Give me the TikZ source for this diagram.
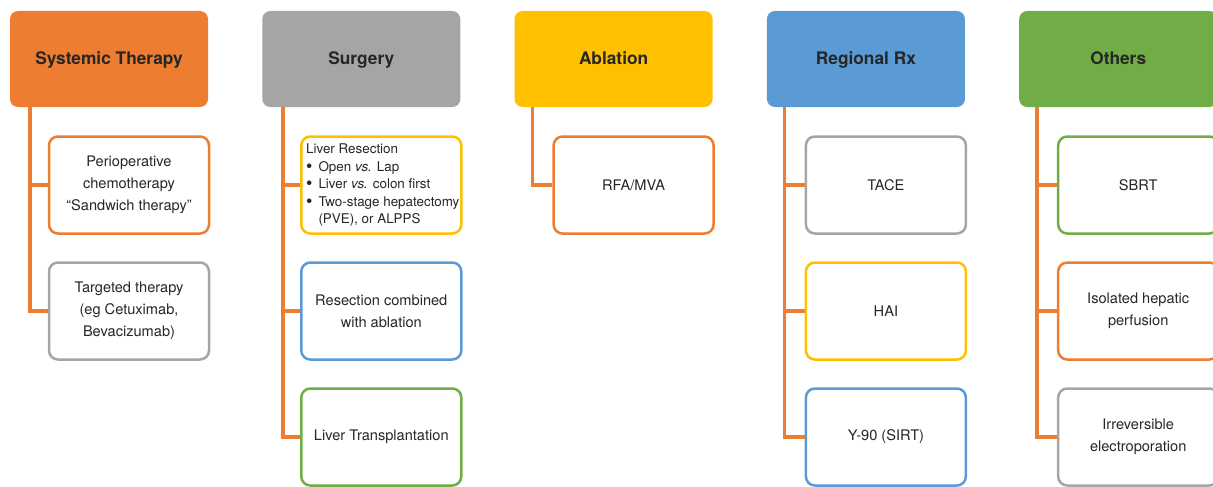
\documentclass[tikz,border=0pt]{standalone}
\usepackage{fontspec}
\setmainfont{TeX Gyre Heros}
\usepackage{xcolor}
\usetikzlibrary{math}
\definecolor{myorange}{RGB}{237,125,49}
\definecolor{mygray}{RGB}{165,165,165}
\definecolor{myyellow}{RGB}{255,192,0}
\definecolor{myblue}{RGB}{91,155,213}
\definecolor{mygreen}{RGB}{112,173,71}
\definecolor{mytext}{RGB}{38,38,38}
\newcommand{\bull}{\raisebox{-1.2pt}{\scalebox{1.35}{\textbullet}}}

\tikzset{
head/.style={fill=#1, rounded corners=8pt, minimum width=198pt, minimum height=96pt, text height=12.5pt, text depth=0.5pt, text=mytext, font=\fontsize{17.3}{20}\selectfont\bfseries},
item/.style={draw=#1, line width=2.5pt, fill=white, rounded corners=9pt, minimum width=160pt, minimum height=97pt, align=center, text=mytext, font=\fontsize{14.6}{22}\selectfont},
link/.style={draw=myorange, line width=3.5pt},
}

\begin{document}
\begin{tikzpicture}[x=1pt,y=-1pt]
\tikzmath{
\dx=252.3;
\ha=109; \hb=\ha+\dx; \hc=\ha+2*\dx; \hd=\ha+3*\dx; \he=\ha+4*\dx;
\ya=185; \yb=311; \yc=437;
}
\useasboundingbox (0,0) rectangle (1213,487);
\clip (0,0) rectangle (1213,487);

% headers
\node[head=myorange] (st) at (\ha,59) {Systemic Therapy};
\node[head=mygray] (su) at (\hb,59) {Surgery};
\node[head=myyellow] (ab) at (\hc,59) {Ablation};
\node[head=myblue] (rx) at (\hd,59) {Regional Rx};
\node[head=mygreen] (ot) at (\he,59) {Others};

% systemic therapy
\node[item=myorange] (st1) at (\ha+20,\ya) {Perioperative\\chemotherapy\\“Sandwich therapy”};
\node[item=mygray] (st2) at (\ha+20,\yb) {Targeted therapy\\(eg Cetuximab,\\Bevacizumab)};

% surgery
\node[item=myyellow, inner sep=1pt, font=\fontsize{13.4}{17.5}\selectfont] (su1) at (\hb+20,\ya) {%
\hspace*{3pt}\begin{tabular}{@{}l@{\hspace{6pt}}l@{}}
\multicolumn{2}{@{}l@{}}{Liver Resection}\\
\bull & Open \textit{vs.} Lap\\
\bull & Liver \textit{vs.} colon first\\
\bull & Two-stage hepatectomy\\
 & (PVE), or ALPPS
\end{tabular}};
\node[item=myblue] (su2) at (\hb+20,\yb) {Resection combined\\with ablation};
\node[item=mygreen] (su3) at (\hb+20,\yc) {Liver Transplantation};

% ablation
\node[item=myorange] (ab1) at (\hc+20,\ya) {RFA/MVA};

% regional
\node[item=mygray] (rx1) at (\hd+20,\ya) {TACE};
\node[item=myyellow] (rx2) at (\hd+20,\yb) {HAI};
\node[item=myblue] (rx3) at (\hd+20,\yc) {Y-90 (SIRT)};

% others
\node[item=mygreen] (ot1) at (\he+20,\ya) {SBRT};
\node[item=myorange] (ot2) at (\he+20,\yb) {Isolated hepatic\\perfusion};
\node[item=mygray] (ot3) at (\he+20,\yc) {Irreversible\\electroporation};

% links
\draw[link] ([xshift=20pt]st.south west) |- (st1.west);
\draw[link] ([xshift=20pt]st.south west) |- (st2.west);
\draw[link] ([xshift=21pt]su.south west) |- (su1.west);
\draw[link] ([xshift=21pt]su.south west) |- (su2.west);
\draw[link] ([xshift=21pt]su.south west) |- (su3.west);
\draw[link] ([xshift=18pt]ab.south west) |- (ab1.west);
\draw[link] ([xshift=18pt]rx.south west) |- (rx1.west);
\draw[link] ([xshift=18pt]rx.south west) |- (rx2.west);
\draw[link] ([xshift=18pt]rx.south west) |- (rx3.west);
\draw[link] ([xshift=18pt]ot.south west) |- (ot1.west);
\draw[link] ([xshift=18pt]ot.south west) |- (ot2.west);
\draw[link] ([xshift=18pt]ot.south west) |- (ot3.west);
\end{tikzpicture}
\end{document}
